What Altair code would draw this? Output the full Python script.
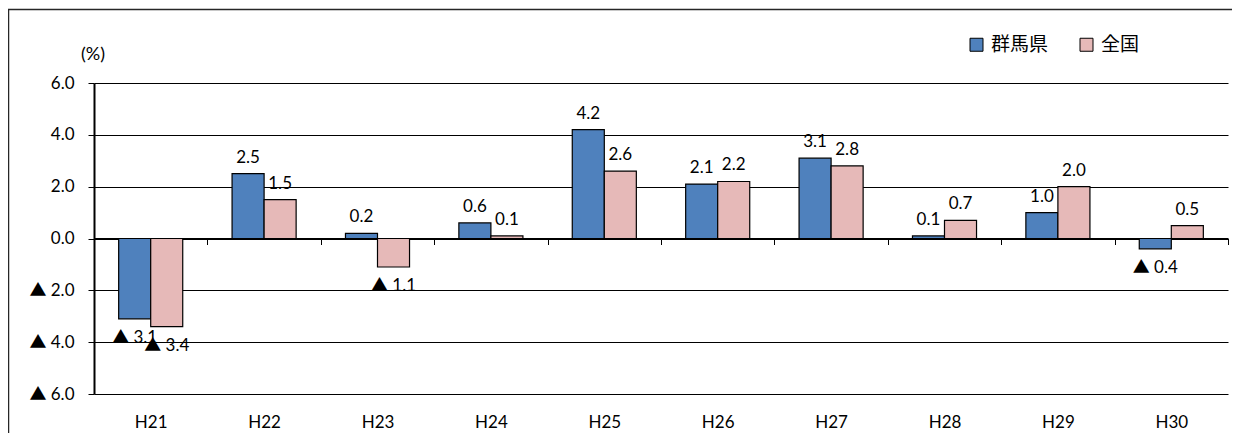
import altair as alt
import pandas as pd

years = ["H21", "H22", "H23", "H24", "H25", "H26", "H27", "H28", "H29", "H30"]
gunma = [-3.1, 2.5, 0.2, 0.6, 4.2, 2.1, 3.1, 0.1, 1.0, -0.4]
zenkoku = [-3.4, 1.5, -1.1, 0.1, 2.6, 2.2, 2.8, 0.7, 2.0, 0.5]
series = ["群馬県", "全国"]
colors = ["#4F81BD", "#E6B9B8"]
y_ticks = [-6, -4, -2, 0, 2, 4, 6]
title_text = "年度別経済成長率の推移（名目：全国・群馬県）"
unit_text = "(%)"

rows = []
for i, yr in enumerate(years):
    rows.append({"year": yr, "series": series[0], "value": gunma[i]})
    rows.append({"year": yr, "series": series[1], "value": zenkoku[i]})
df = pd.DataFrame(rows)

W, H = 1134, 311
FONT = "Lato, 'Noto Sans CJK JP'"
JFONT = "Noto Sans CJK JP"
LABEL_EXPR = "datum.value < 0 ? '▲ ' + format(-datum.value, '.1f') : format(datum.value, '.1f')"

x_enc = alt.X(
    "year:N", sort=years,
    scale=alt.Scale(paddingInner=0, paddingOuter=0),
    axis=alt.Axis(title=None, orient="bottom", offset=-155.5, tickBand="extent",
                  domainColor="black", domainWidth=2, tickColor="black", tickWidth=1,
                  tickSize=6, labelPadding=170, labelFont=FONT, labelFontSize=17,
                  labelColor="black", labelAngle=0, grid=False),
)
y_enc = alt.Y(
    "value:Q",
    scale=alt.Scale(domain=[-6, 6], nice=False, zero=False),
    axis=alt.Axis(title=None, values=y_ticks, grid=True, gridColor="black", gridWidth=1,
                  domainColor="black", domainWidth=2, tickColor="black", tickSize=6,
                  tickWidth=1, labelPadding=14, labelExpr=LABEL_EXPR, labelFont=FONT,
                  labelFontSize=17, labelColor="black"),
)
xoff = alt.XOffset("series:N", sort=series, scale=alt.Scale(paddingOuter=0.77, paddingInner=0))

base = alt.Chart(df)

bars = base.mark_bar(stroke="black", strokeWidth=1.2).encode(
    x=x_enc, y=y_enc, y2=alt.datum(0), xOffset=xoff,
    color=alt.Color("series:N", sort=series,
                    scale=alt.Scale(domain=series, range=colors),
                    legend=alt.Legend(title=None, orient="none", legendX=873, legendY=-48,
                                      direction="horizontal", symbolType="square",
                                      symbolSize=169, symbolStrokeColor="black",
                                      symbolStrokeWidth=1, labelFont=JFONT, labelFontSize=19,
                                      labelColor="black", columnPadding=28, labelOffset=5,
                                      padding=0)),
)

lab = base.transform_calculate(label=LABEL_EXPR)
pos_text = lab.transform_filter("datum.value >= 0").mark_text(
    dy=-16, fontSize=17, font=FONT, color="black", baseline="middle"
).encode(x=alt.X("year:N", sort=years), y="value:Q", xOffset=xoff, text="label:N")
neg_text = lab.transform_filter("datum.value < 0").mark_text(
    dy=19, fontSize=17, font=FONT, color="black", baseline="middle"
).encode(x=alt.X("year:N", sort=years), y="value:Q", xOffset=xoff, text="label:N")

deco = alt.Chart(pd.DataFrame({"t": [title_text], "u": [unit_text]}))
title = deco.mark_text(fontSize=24, font=JFONT, color="black", baseline="bottom", align="center").encode(
    x=alt.value(501), y=alt.value(-76), text="t:N")
unit = deco.mark_text(fontSize=18, font=FONT, color="black", baseline="middle", align="center").encode(
    x=alt.value(-1), y=alt.value(-28), text="u:N")
border_top = deco.mark_rule(color="#262626", strokeWidth=1.5).encode(
    x=alt.value(-86), x2=alt.value(W + 20), y=alt.value(-73.5))
border_left = deco.mark_rule(color="#262626", strokeWidth=1.5).encode(
    x=alt.value(-85.5), y=alt.value(-73.5), y2=alt.value(H + 60))

chart = alt.layer(bars, pos_text, neg_text, title, unit, border_top, border_left).properties(
    width=W, height=H,
    padding={"left": 86, "top": 75, "right": 4, "bottom": 39},
    autosize=alt.AutoSizeParams(type="none"),
    background="white",
).configure_view(stroke=None)

chart.save("out.html", embed_options={"renderer": "svg", "actions": False})
